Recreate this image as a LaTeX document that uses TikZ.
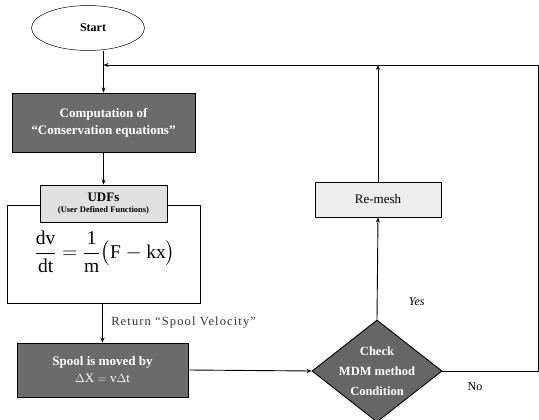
\documentclass[tikz,border=0pt]{standalone}
\usepackage{fontspec}
\setmainfont{Liberation Serif}
\usepackage{amsmath}
\usetikzlibrary{arrows.meta,positioning,shapes.geometric,calc}

\begin{document}
\begin{tikzpicture}[
    x=1pt, y=-1pt,
    darkbox/.style={rectangle, draw, fill=black!58, text=white, align=center,
                    inner sep=0pt, font=\fontsize{13}{17}\selectfont\bfseries},
    lightbox/.style={rectangle, draw, fill=black!12, align=center, inner sep=0pt},
    lbl/.style={font=\fontsize{11}{13}\selectfont},
    line width=0.9pt,
    >={Stealth[length=5pt,width=4pt]}
]
\useasboundingbox (0,0) rectangle (539,420);

% --- Main column ---
\node[draw, ellipse, line width=0.5pt, minimum width=113pt, minimum height=45pt,
      font=\fontsize{12}{14}\selectfont\bfseries] (start) at (88,28) {\hspace*{10pt}Start};
\node[darkbox, minimum width=183pt, minimum height=59pt] (comp) at (103.5,122.5)
  {Computation of\\ ``Conservation equations''};
\node[draw, rectangle, minimum width=193pt, minimum height=98pt] (udfbody) at (104,254) {};
\node[lightbox, minimum width=127pt, minimum height=37pt] (udf) at (103.5,203.5)
  {{\fontsize{13}{14}\selectfont\bfseries UDFs}\\[-1pt]
   {\fontsize{8.5}{9}\selectfont\bfseries (User Defined Functions)}};
\node[font=\fontsize{19.5}{22}\selectfont] (eq) at (105,252)
  {$\dfrac{\mathrm{dv}}{\mathrm{dt}}=\dfrac{\mathrm{1}}{\mathrm{m}}\bigl(\mathrm{F}-\mathrm{kx}\bigr)$};
\node[darkbox, minimum width=171pt, minimum height=54pt] (move) at (102.5,370)
  {Spool is moved by\\ $\Delta\mathrm{X}=\mathrm{v}\Delta\mathrm{t}$};

% --- Check and re-mesh ---
\node[diamond, draw, fill=black!60, text=white, align=center, inner sep=-16pt,
      minimum width=130pt, minimum height=102pt,
      font=\fontsize{12.5}{20}\selectfont\bfseries] (check) at (377,371)
  {Check\\ MDM method\\ Condition};
\node[lightbox, fill=black!7, minimum width=126pt, minimum height=35pt,
      font=\fontsize{13}{15}\selectfont] (remesh) at (378,199.5) {Re-mesh};

% --- Loop corners ---
\coordinate (join) at (comp.north |- 0,65);
\coordinate (cornerb) at (538,371);
\coordinate (cornert) at (538,65);

% --- Edges ---
\draw[->] (start.south -| comp.north) -- (comp.north);
\draw[->] (comp) -- (udf);
\draw[->] (udfbody.south -| move.north) -- node[lbl, right=5pt, text=black!80,
      font=\fontsize{12.5}{14}\selectfont\addfontfeature{LetterSpace=9}]
      {Return ``Spool Velocity''} (move.north);
\draw[->] (move.east) -- (check.west);
\draw[->] (check.north) -- node[lbl, right=28pt, pos=0.18,
      font=\fontsize{12}{13}\selectfont\itshape] {Yes} (remesh.south);
\draw[->] (remesh.north) -- (remesh.north |- join);
\draw[->] (check.east) -- node[lbl, below=8pt, pos=0.34,
      font=\fontsize{12}{13}\selectfont] {No} (cornerb) -- (cornert) -- (join);
\end{tikzpicture}
\end{document}
